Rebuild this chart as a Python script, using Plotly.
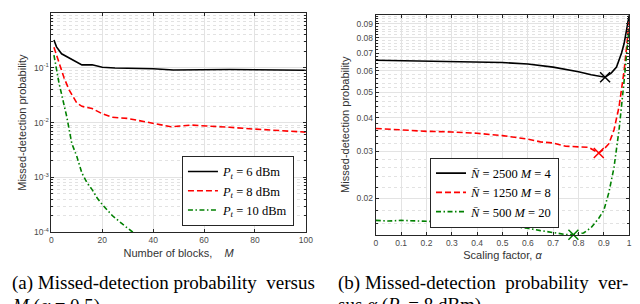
import plotly.graph_objects as go
import numpy as np

# ---- Panel (a): missed-detection probability vs number of blocks M ----
M_black = [1, 2, 4, 6, 8, 10, 12, 16, 20, 25, 30, 40, 48, 60, 70, 80, 90, 100]
P_black = [0.32, 0.24, 0.18, 0.16, 0.14, 0.125, 0.113, 0.113, 0.102, 0.099, 0.098,
           0.096, 0.091, 0.093, 0.093, 0.092, 0.091, 0.09]
M_red = [1, 3, 5, 7, 10, 12, 16, 20, 24, 30, 35, 40, 47, 55, 60, 70, 80, 90, 100]
P_red = [0.236, 0.127, 0.065, 0.039, 0.0227, 0.0198, 0.018, 0.0145, 0.0125, 0.0119,
         0.0108, 0.0095, 0.0084, 0.009, 0.0088, 0.0082, 0.0076, 0.0072, 0.0067]
M_green = [1, 2, 3, 4, 5, 6, 8, 10, 12, 14, 16, 18, 20, 24, 28, 32]
P_green = [0.17, 0.09, 0.052, 0.033, 0.022, 0.013, 0.0042, 0.0024, 0.0012, 0.0008,
           0.0006, 0.00042, 0.00032, 0.0002, 0.00014, 0.0001]
names_a = ["<i>P</i><sub><i>t</i></sub> = 6 dBm", "<i>P</i><sub><i>t</i></sub> = 8 dBm",
           "<i>P</i><sub><i>t</i></sub> = 10 dBm"]
y_ticks_a = [1e-4, 1e-3, 1e-2, 1e-1, 1]
y_text_a = ["10<sup>-4</sup>", "10<sup>-3</sup>", "10<sup>-2</sup>", "10<sup>-1</sup>", "10<sup>0</sup>"]
x_ticks_a = [0, 20, 40, 60, 80, 100]

# ---- Panel (b): missed-detection probability vs scaling factor alpha ----
a_black = [0, 0.1, 0.2, 0.3, 0.4, 0.5, 0.6, 0.7, 0.8, 0.85, 0.905, 0.93, 0.95, 0.97, 0.98, 1.0]
p_black = [0.0658, 0.0655, 0.0652, 0.0651, 0.0648, 0.0645, 0.0637, 0.062, 0.0596, 0.058,
           0.0568, 0.059, 0.062, 0.07, 0.076, 0.097]
a_red = [0, 0.1, 0.2, 0.3, 0.4, 0.5, 0.55, 0.6, 0.65, 0.7, 0.75, 0.8, 0.84, 0.88, 0.9,
         0.92, 0.94, 0.96, 0.98, 1.0]
p_red = [0.0365, 0.036, 0.0356, 0.0354, 0.035, 0.0343, 0.0337, 0.0333, 0.0325, 0.0322,
         0.0313, 0.0312, 0.031, 0.0295, 0.0305, 0.032, 0.036, 0.044, 0.06, 0.092]
a_green = [0, 0.05, 0.1, 0.15, 0.2, 0.25, 0.3, 0.35, 0.4, 0.45, 0.5, 0.55, 0.6, 0.65,
           0.7, 0.75, 0.78, 0.82, 0.85, 0.88, 0.9, 0.92, 0.94, 0.96, 0.98, 1.0]
p_green = [0.0165, 0.0164, 0.0165, 0.0164, 0.0163, 0.0163, 0.0159, 0.0158, 0.0158, 0.0158,
           0.0159, 0.0156, 0.0154, 0.0151, 0.0148, 0.0146, 0.01457, 0.0148, 0.0155, 0.0168,
           0.018, 0.021, 0.026, 0.036, 0.055, 0.088]
opt_alpha = [0.905, 0.88, 0.78]
opt_p = [0.0568, 0.0295, 0.01457]
names_b = ["<i>N\u0304</i> = 2500 <i>M</i> = 4", "<i>N\u0304</i> = 1250 <i>M</i> = 8",
           "<i>N\u0304</i> = 500 <i>M</i> = 20"]

y_ticks_b = [0.02, 0.03, 0.04, 0.05, 0.06, 0.07, 0.08, 0.09]
x_ticks_b = [0, 0.1, 0.2, 0.3, 0.4, 0.5, 0.6, 0.7, 0.8, 0.9, 1]

colors = ["#000000", "#ff0000", "#008000"]
dashes = ["solid", "6px,3px", "5px,2.5px,1.5px,2.5px"]

fig = go.Figure()
for xs, ys, nm, c, d in zip([M_black, M_red, M_green], [P_black, P_red, P_green], names_a, colors, dashes):
    fig.add_trace(go.Scatter(x=xs, y=ys, name=nm, mode="lines", line=dict(color=c, width=1.6, dash=d),
                             xaxis="x", yaxis="y", legend="legend"))
for xs, ys, nm, c, d in zip([a_black, a_red, a_green], [p_black, p_red, p_green], names_b, colors, dashes):
    fig.add_trace(go.Scatter(x=xs, y=ys, name=nm, mode="lines", line=dict(color=c, width=1.6, dash=d),
                             xaxis="x2", yaxis="y2", legend="legend2"))
for i in range(3):
    fig.add_trace(go.Scatter(x=[opt_alpha[i]], y=[opt_p[i]], mode="markers", showlegend=False,
                             marker=dict(symbol="x-thin", size=10, line=dict(color=colors[i], width=1.5)),
                             xaxis="x2", yaxis="y2", cliponaxis=False))

axcol = "#262626"
gridcol = "#e3e3e3"
minorcol = "#e2e2e2"
tickfont = dict(family="Liberation Sans, Arial", size=8.5, color="#4a4a4a")
titlefont = dict(family="Liberation Sans, Arial", size=11, color="#333333")

minor_a = [m * 10.0 ** e for e in range(-4, 0) for m in range(2, 10)]
minor_b = [round(v, 3) for v in np.arange(0.014, 0.1, 0.002) if round(v * 1000) % 10 != 0]

common = dict(showline=True, linecolor=axcol, linewidth=1, mirror="ticks", ticks="inside",
              ticklen=3, tickcolor=axcol, showgrid=True, gridcolor=gridcol, gridwidth=1,
              zeroline=False, tickfont=tickfont)

fig.update_layout(
    width=640, height=304, autosize=False,
    margin=dict(l=0, r=0, t=0, b=0),
    paper_bgcolor="white", plot_bgcolor="white",
    xaxis=dict(domain=[42 / 640, 300 / 640], range=[0, 100], tickvals=x_ticks_a,
               anchor="y", title=dict(text="Number of blocks,&nbsp;&nbsp;&nbsp;&nbsp;<i>M</i>", font=titlefont, standoff=4),
               **common),
    yaxis=dict(domain=[1 - 228 / 304, 1 - 5 / 304], type="log", range=[-4, 0],
               tickvals=y_ticks_a, ticktext=y_text_a, anchor="x",
               minor=dict(tickvals=minor_a, showgrid=True, griddash="dot", gridcolor=minorcol,
                          ticks="inside", ticklen=2, tickcolor=axcol),
               title=dict(text="Missed-detection probability", font=titlefont, standoff=5),
               **common),
    xaxis2=dict(domain=[371 / 640, 628 / 640], range=[0, 1], tickvals=x_ticks_b,
                ticktext=[f"{v:g}" for v in x_ticks_b], anchor="y2",
                title=dict(text="Scaling factor, <i>α</i>", font=titlefont, standoff=4),
                **common),
    yaxis2=dict(domain=[1 - 230.7 / 304, 1 - 6.7 / 304], type="log",
                range=[np.log10(0.01455), np.log10(0.0976)], tickvals=y_ticks_b,
                ticktext=[f"{v:g}" for v in y_ticks_b], anchor="x2",
                minor=dict(tickvals=minor_b, showgrid=True, griddash="dot", gridcolor=minorcol,
                           ticks="inside", ticklen=2, tickcolor=axcol),
                title=dict(text="Missed-detection probability", font=titlefont, standoff=4),
                **common),
    legend=dict(x=288 / 640, y=1 - 221.5 / 304, xanchor="right", yanchor="bottom",
                bgcolor="white", bordercolor=axcol, borderwidth=1,
                font=dict(family="Liberation Serif, Times New Roman", size=12.5, color="black"),
                tracegroupgap=0, itemwidth=30),
    legend2=dict(x=426 / 640, y=1 - 152 / 304, xanchor="left", yanchor="top",
                 bgcolor="white", bordercolor=axcol, borderwidth=1,
                 font=dict(family="Liberation Serif, Times New Roman", size=12.5, color="black"),
                 tracegroupgap=0, itemwidth=30),
)

capfont = dict(family="Liberation Serif, Times New Roman", size=19, color="black")
captions = [
    (0, 280, "(a) Missed-detection probability&nbsp; versus"),
    (0, 303, "<i>M</i> (<i>α</i> = 0.5)"),
    (331, 280, "(b) Missed-detection&nbsp; probability&nbsp; ver-"),
    (331, 303, "sus <i>α</i> (<i>P</i><sub><i>t</i></sub> = 8 dBm)"),
]
for x, y, t in captions:
    fig.add_annotation(x=x / 640, y=1 - y / 304, xref="paper", yref="paper", text=t, showarrow=False,
                       xanchor="left", yanchor="middle", font=capfont)

fig.write_html("out.html")
